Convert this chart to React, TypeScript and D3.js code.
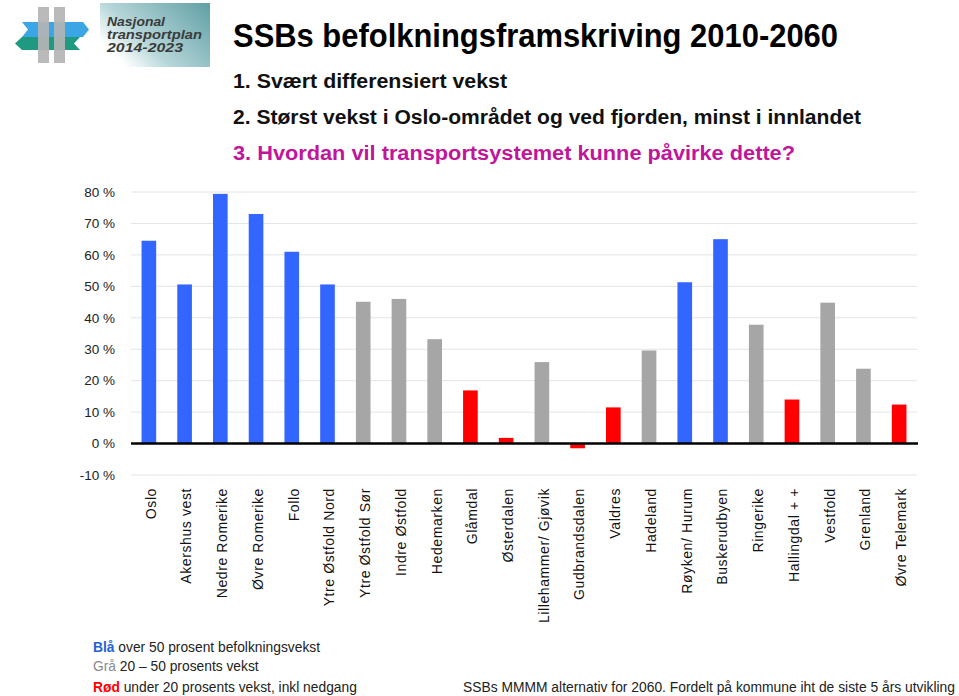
import * as d3 from 'd3'
import { useEffect, useRef } from 'react';

const categories = ['Oslo', 'Akershus vest', 'Nedre Romerike', 'Øvre Romerike', 'Follo', 'Ytre Østfold Nord',
    'Ytre Østfold Sør', 'Indre Østfold', 'Hedemarken', 'Glåmdal', 'Østerdalen', 'Lillehammer/ Gjøvik',
    'Gudbrandsdalen', 'Valdres', 'Hadeland', 'Røyken/ Hurum', 'Buskerudbyen', 'Ringerike', 'Hallingdal + +',
    'Vestfold', 'Grenland', 'Øvre Telemark'];
const growth = [64.5, 50.6, 79.4, 73, 61, 50.6, 45.1, 46, 33.2, 16.9, 1.8, 25.9, -1.5, 11.5, 29.6, 51.3, 65, 37.8, 14, 44.8, 23.8, 12.4];
const yTicks = [-10, 0, 10, 20, 30, 40, 50, 60, 70, 80];

const title = 'SSBs befolkningsframskriving 2010-2060';
const points = ['1.  Svært differensiert vekst', '2.  Størst vekst i Oslo-området og ved fjorden, minst i innlandet', '3.  Hvordan vil transportsystemet kunne påvirke dette?'];
const legend = [
    ['Blå', ' over 50 prosent befolkningsvekst'],
    ['Grå', ' 20 – 50 prosents vekst'],
    ['Rød', ' under 20 prosents vekst, inkl nedgang'],
];
const note = 'SSBs MMMM alternativ for 2060. Fordelt på kommune iht de siste 5 års utvikling';
const logoLines = ['Nasjonal', 'transportplan', '2014-2023'];

const BLUE = '#3366ff', GREY = '#a6a6a6', RED = '#ff0000';
const colourOf = (v: number) => v > 50 ? BLUE : v >= 20 ? GREY : RED;

function drawLogo(svg: any) {
    const g = svg.append('g');
    const defs = svg.append('defs');
    const grad = defs.append('linearGradient').attr('id', 'logoBg').attr('x1', 0).attr('x2', 1).attr('y1', 0.6).attr('y2', 0);
    grad.append('stop').attr('offset', '0%').attr('stop-color', '#ffffff');
    grad.append('stop').attr('offset', '30%').attr('stop-color', '#b6d6d8');
    grad.append('stop').attr('offset', '100%').attr('stop-color', '#5f9fa5');
    g.append('rect').attr('x', 100).attr('y', 3).attr('width', 110).attr('height', 64).attr('fill', 'url(#logoBg)');
    // skilt
    g.append('path').attr('d', 'M22,22 L83,22 L89,29.5 L83,37 L22,37 L28,29.5 Z').attr('fill', '#3aa6e6');
    g.append('path').attr('d', 'M22,37 L80,37 L74,43.5 L80,50 L22,50 L15,43.5 Z').attr('fill', '#1f9a80');
    g.append('rect').attr('x', 38).attr('y', 7).attr('width', 11).attr('height', 56).attr('fill', '#b4b4b4').attr('opacity', 0.92);
    g.append('rect').attr('x', 54).attr('y', 7).attr('width', 11).attr('height', 56).attr('fill', '#b4b4b4').attr('opacity', 0.92);
    const lens = [58, 95, 76];
    logoLines.forEach((t, i) => {
        g.append('text').attr('x', 107).attr('y', 26 + i * 13).text(t)
            .attr('font-family', 'Liberation Sans, Arial, sans-serif').attr('font-size', 12.5)
            .attr('textLength', lens[i]).attr('lengthAdjust', 'spacingAndGlyphs')
            .attr('font-weight', 'bold').attr('font-style', 'italic').attr('fill', '#3a3a3a');
    });
}

function makeChart(el: SVGSVGElement) {
    const svg = d3.select(el);
    svg.selectAll('*').remove();
    const font = 'Liberation Sans, Arial, sans-serif';

    drawLogo(svg);

    svg.append('text').attr('x', 233).attr('y', 47).text(title)
        .attr('font-family', font).attr('font-weight', 'bold').attr('font-size', 34)
        .attr('textLength', 605).attr('lengthAdjust', 'spacingAndGlyphs').attr('fill', '#000');
    const pointLen = [274, 628, 562];
    points.forEach((t, i) => {
        svg.append('text').attr('x', 233).attr('y', 88 + i * 36).text(t)
            .attr('font-family', font).attr('font-weight', 'bold').attr('font-size', 20)
            .attr('textLength', pointLen[i]).attr('lengthAdjust', 'spacingAndGlyphs')
            .attr('fill', i == 2 ? '#c0169b' : '#111');
    });

    const x = d3.scaleBand().domain(categories).range([131, 917]).paddingInner(0.59).paddingOuter(0.295);
    const y = d3.scaleLinear().domain([-10, 80]).range([475, 192]);

    const grid = svg.append('g');
    grid.selectAll('line').data(yTicks).enter().append('line')
        .attr('x1', 131).attr('x2', 917).attr('y1', d => y(d)).attr('y2', d => y(d))
        .attr('stroke', '#e4e4e4').attr('stroke-width', 1);
    grid.selectAll('text').data(yTicks).enter().append('text')
        .attr('x', 115).attr('y', d => y(d)).attr('dy', '0.35em').attr('text-anchor', 'end')
        .attr('font-family', font).attr('font-size', 13.5).attr('fill', '#222')
        .text(d => d + ' %');

    svg.append('g').selectAll('rect').data(growth).enter().append('rect')
        .attr('x', (d, i) => x(categories[i])!)
        .attr('width', x.bandwidth())
        .attr('y', d => y(Math.max(0, d)))
        .attr('height', d => Math.abs(y(d) - y(0)))
        .attr('fill', d => colourOf(d));

    svg.append('line').attr('x1', 131).attr('x2', 918).attr('y1', y(0)).attr('y2', y(0))
        .attr('stroke', '#000').attr('stroke-width', 2.5);

    svg.append('g').selectAll('text').data(categories).enter().append('text')
        .attr('transform', d => `translate(${x(d)! + x.bandwidth() / 2 + 2},488) rotate(-90)`)
        .attr('dy', '0.35em').attr('text-anchor', 'end')
        .attr('font-family', font).attr('font-size', 14).attr('letter-spacing', 0.6).attr('fill', '#111')
        .text(d => d);

    const legendCol = ['#1f63d6', '#8a8a8a', RED];
    const legendY = [652, 671, 692];
    legend.forEach((l, i) => {
        const t = svg.append('text').attr('x', 93).attr('y', legendY[i])
            .attr('font-family', font).attr('font-size', 13.8).attr('fill', '#222');
        t.append('tspan').attr('font-weight', i == 1 ? 'normal' : 'bold').attr('fill', legendCol[i]).text(l[0]);
        t.append('tspan').text(l[1]);
    });
    svg.append('text').attr('x', 463).attr('y', 692).text(note)
        .attr('font-family', font).attr('font-size', 13.8).attr('fill', '#222')
        .attr('textLength', 492).attr('lengthAdjust', 'spacingAndGlyphs');
}

function App() {
    const ref = useRef<SVGSVGElement>(null);
    useEffect(() => {
        if (ref.current) makeChart(ref.current);
    });

    return (
        <div style={{ position: 'absolute', left: 0, top: 0 }}>
            <svg ref={ref} width="959" height="696" style={{ background: '#fff', display: 'block' }}></svg>
        </div>
    );
}

export default App;
